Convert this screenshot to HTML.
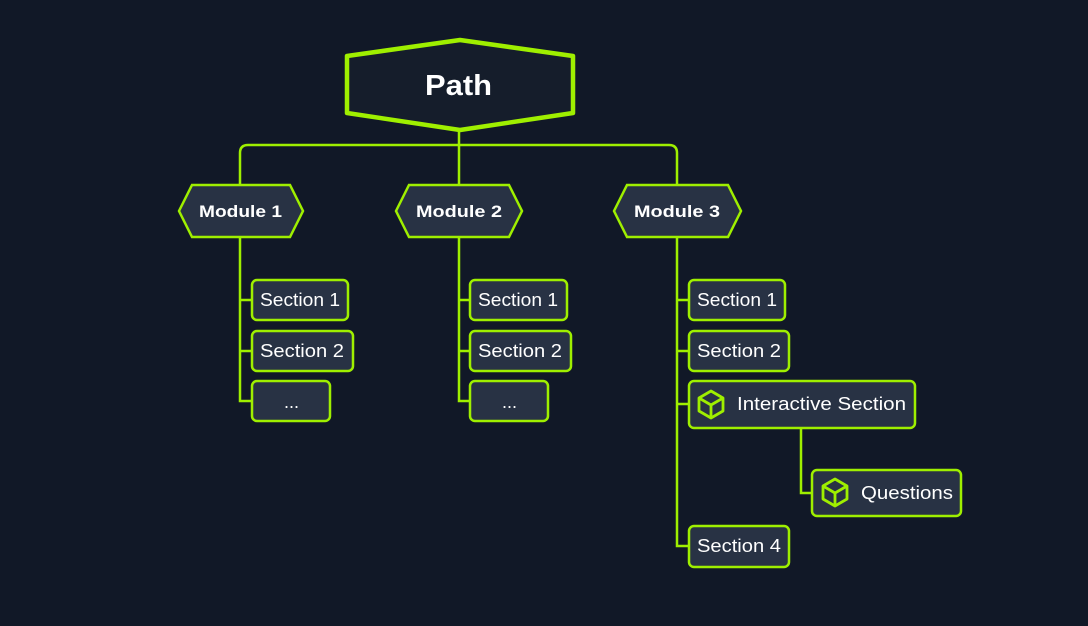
<!DOCTYPE html>
<html><head><style>
html,body{margin:0;padding:0;background:#111827;}
svg{display:block;}
text{font-family:"Liberation Sans",sans-serif;fill:#fff;}
</style></head><body>
<svg width="1088" height="626" viewBox="0 0 1088 626" xmlns="http://www.w3.org/2000/svg">
<rect width="1088" height="626" fill="#111827"/>
<g fill="none" stroke="#9fef00" stroke-width="2.5">
<path d="M459 130 V145"/>
<path d="M240 184 V153 Q240 145 248 145 H669 Q677 145 677 153 V184"/>
<path d="M459 145 V184"/>
<path d="M240 238 V401 H252 M240 300 H252 M240 351 H252"/>
<path d="M459 238 V401 H470 M459 300 H470 M459 351 H470"/>
<path d="M677 238 V546 H689 M677 300 H689 M677 351 H689 M677 404 H689"/>
<path d="M801 428 V493 H812"/>
</g>
<polygon points="347,56 460,40 573,56 573,113 460,130 347,113" fill="#151d2b" stroke="#9fef00" stroke-width="4.5" stroke-linejoin="round"/>
<text x="425" y="95" font-size="29" font-weight="bold" textLength="67" lengthAdjust="spacingAndGlyphs">Path</text>
<g fill="#283244" stroke="#9fef00" stroke-width="2.5">
<polygon points="179,211 192,185 290,185 303,211 290,237 192,237"/>
<polygon points="396,211 409,185 509,185 522,211 509,237 409,237"/>
<polygon points="614,211 627,185 728,185 741,211 728,237 627,237"/>
<rect x="252" y="280" width="96" height="40" rx="5"/>
<rect x="252" y="331" width="101" height="40" rx="5"/>
<rect x="252" y="381" width="78" height="40" rx="5"/>
<rect x="470" y="280" width="97" height="40" rx="5"/>
<rect x="470" y="331" width="101" height="40" rx="5"/>
<rect x="470" y="381" width="78" height="40" rx="5"/>
<rect x="689" y="280" width="96" height="40" rx="5"/>
<rect x="689" y="331" width="100" height="40" rx="5"/>
<rect x="689" y="381" width="226" height="47" rx="5"/>
<rect x="812" y="470" width="149" height="46" rx="5"/>
<rect x="689" y="526" width="100" height="41" rx="5"/>
</g>
<g font-size="17" font-weight="bold">
<text x="199" y="217" textLength="83" lengthAdjust="spacingAndGlyphs">Module 1</text>
<text x="416" y="217" textLength="86" lengthAdjust="spacingAndGlyphs">Module 2</text>
<text x="634" y="217" textLength="86" lengthAdjust="spacingAndGlyphs">Module 3</text>
</g>
<g font-size="18">
<text x="260" y="306" textLength="80" lengthAdjust="spacingAndGlyphs">Section 1</text>
<text x="260" y="357" textLength="84" lengthAdjust="spacingAndGlyphs">Section 2</text>
<text x="284" y="408">...</text>
<text x="478" y="306" textLength="80" lengthAdjust="spacingAndGlyphs">Section 1</text>
<text x="478" y="357" textLength="84" lengthAdjust="spacingAndGlyphs">Section 2</text>
<text x="502" y="408">...</text>
<text x="697" y="306" textLength="80" lengthAdjust="spacingAndGlyphs">Section 1</text>
<text x="697" y="357" textLength="84" lengthAdjust="spacingAndGlyphs">Section 2</text>
<text x="737" y="410" textLength="169" lengthAdjust="spacingAndGlyphs">Interactive Section</text>
<text x="861" y="499" textLength="92" lengthAdjust="spacingAndGlyphs">Questions</text>
<text x="697" y="552" textLength="84" lengthAdjust="spacingAndGlyphs">Section 4</text>
</g>
<g fill="none" stroke="#9fef00" stroke-width="2.8" stroke-linejoin="round">
<path d="M711 391 L723 398 V411 L711 418 L699 411 V398 Z M699 398 L711 405 L723 398 M711 405 V418"/>
<path d="M835 479 L847 486 V499 L835 506 L823 499 V486 Z M823 486 L835 493 L847 486 M835 493 V506"/>
</g>
</svg>
</body></html>
